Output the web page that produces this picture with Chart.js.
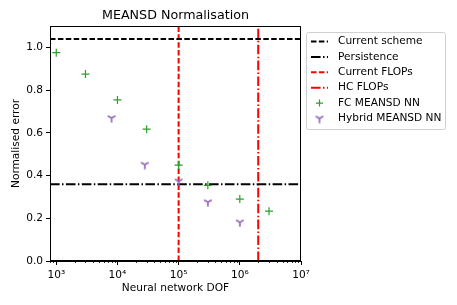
<!DOCTYPE html>
<html><head><meta charset="utf-8">
<script src="https://cdn.jsdelivr.net/npm/chart.js@4"></script>
<style>html,body{margin:0;padding:0;background:#fff}#wrap{width:457px;height:305px}</style>
</head><body><div id="wrap"><canvas id="c" width="457" height="305"></canvas></div>
<script>
const fcDOF = [1e3, 3e3, 1e4, 3e4, 1e5, 3e5, 1e6, 3e6];
const fcError = [0.975, 0.875, 0.754, 0.617, 0.449, 0.354, 0.29, 0.233];
const hybridDOF = [8e3, 2.8e4, 1e5, 3e5, 1e6];
const hybridError = [0.669, 0.451, 0.373, 0.275, 0.181];
const currentScheme = 1.039;
const persistence = 0.359;
const currentFLOPs = 1e5;
const hcFLOPs = 2e6;
const xRange = [790, 1e7];
const yRange = [0, 1.1];
const yTicks = [0, 0.2, 0.4, 0.6, 0.8, 1.0];
const xMajorTicks = [1e3, 1e4, 1e5, 1e6, 1e7];
const xTickLabels = ['10³', '10⁴', '10⁵', '10⁶', '10⁷'];
const legendLabels = ['Current scheme', 'Persistence', 'Current FLOPs', 'HC FLOPs', 'FC MEANSD NN', 'Hybrid MEANSD NN'];

const GREEN = '#2ca02c', PURPLE = '#9467bd', RED = '#ff0000', BLACK = '#000000';
const FONT = '"DejaVu Sans", sans-serif';
const FS = 10.6;
const DASHED = [5.5, 2.4];
const DASHDOT = [9.6, 2.4, 1.5, 2.4];

function triDown(color) {
  const c = document.createElement('canvas');
  c.width = 10; c.height = 10;
  const g = c.getContext('2d');
  g.strokeStyle = color; g.lineWidth = 1.7;
  g.beginPath();
  g.moveTo(5, 5); g.lineTo(5, 9.5);
  g.moveTo(5, 5); g.lineTo(1.2, 2.8);
  g.moveTo(5, 5); g.lineTo(8.8, 2.8);
  g.stroke();
  return c;
}
const triImg = triDown(PURPLE);

const hLine = (v) => [{x: xRange[0], y: v}, {x: xRange[1], y: v}];
const vLine = (v) => [{x: v, y: yRange[0]}, {x: v, y: yRange[1]}];

const datasets = [
  {label: legendLabels[0], type: 'line', data: hLine(currentScheme), borderColor: BLACK, borderWidth: 2, borderDash: DASHED, pointRadius: 0, order: 3},
  {label: legendLabels[1], type: 'line', data: hLine(persistence), borderColor: BLACK, borderWidth: 2, borderDash: DASHDOT, pointRadius: 0, order: 3},
  {label: legendLabels[2], type: 'line', data: vLine(currentFLOPs), borderColor: RED, borderWidth: 2, borderDash: DASHED, pointRadius: 0, order: 3},
  {label: legendLabels[3], type: 'line', data: vLine(hcFLOPs), borderColor: RED, borderWidth: 2, borderDash: DASHDOT, pointRadius: 0, order: 3},
  {label: legendLabels[4], type: 'scatter', data: fcDOF.map((x, i) => ({x, y: fcError[i]})), pointStyle: 'cross', radius: 4, borderColor: GREEN, backgroundColor: GREEN, borderWidth: 1.2, order: 1},
  {label: legendLabels[5], type: 'scatter', data: hybridDOF.map((x, i) => ({x, y: hybridError[i]})), pointStyle: triImg, radius: 5, borderColor: PURPLE, backgroundColor: PURPLE, order: 2}
];

const extras = {
  id: 'extras',
  afterDraw(chart) {
    const ctx = chart.ctx, a = chart.chartArea, xs = chart.scales.x;
    ctx.save();
    ctx.strokeStyle = '#000'; ctx.lineWidth = 1; ctx.setLineDash([]);
    ctx.strokeRect(Math.round(a.left) + 0.5, Math.round(a.top) + 0.5, Math.round(a.right - a.left) - 1, Math.round(a.bottom - a.top) - 1);
    ctx.beginPath();
    for (let d = 2; d < 7; d++) {
      for (let m = 2; m < 10; m++) {
        const v = m * Math.pow(10, d);
        if (v < xRange[0] || v > xRange[1]) continue;
        const px = Math.round(xs.getPixelForValue(v)) + 0.5;
        ctx.moveTo(px, a.bottom); ctx.lineTo(px, a.bottom + 2);
      }
    }
    ctx.lineWidth = 0.8; ctx.stroke();
    ctx.fillStyle = '#000';
    ctx.font = '12.7px ' + FONT; ctx.textAlign = 'center'; ctx.textBaseline = 'middle';
    ctx.fillText('MEANSD Normalisation', (a.left + a.right) / 2, 16);
    const lx = 306.5, ly = 32.5, lw = 139, lh = 97;
    ctx.fillStyle = 'rgba(255,255,255,0.8)';
    ctx.strokeStyle = '#d0d0d0'; ctx.lineWidth = 1;
    ctx.beginPath(); ctx.roundRect(lx, ly, lw, lh, 2); ctx.fill(); ctx.stroke();
    ctx.font = FS + 'px ' + FONT; ctx.textAlign = 'left'; ctx.textBaseline = 'middle';
    const styles = [[BLACK, DASHED], [BLACK, DASHDOT], [RED, DASHED], [RED, DASHDOT]];
    for (let i = 0; i < legendLabels.length; i++) {
      const y = 41.5 + i * 15.4;
      if (i < 4) {
        ctx.strokeStyle = styles[i][0]; ctx.lineWidth = 2; ctx.setLineDash(styles[i][1]);
        ctx.beginPath(); ctx.moveTo(311, y); ctx.lineTo(328, y); ctx.stroke();
        ctx.setLineDash([]);
      } else if (i === 4) {
        ctx.strokeStyle = GREEN; ctx.lineWidth = 1.2;
        ctx.beginPath(); ctx.moveTo(316, y); ctx.lineTo(323, y); ctx.moveTo(319.5, y - 3.5); ctx.lineTo(319.5, y + 3.5); ctx.stroke();
      } else {
        ctx.drawImage(triImg, 314.5, y - 5);
      }
      ctx.fillStyle = '#000';
      ctx.fillText(legendLabels[i], 338, y);
    }
    ctx.restore();
  }
};

new Chart(document.getElementById('c'), {
  type: 'scatter',
  data: {datasets},
  options: {
    responsive: false, animation: false,
    layout: {padding: {left: 0, right: 156, top: 26, bottom: 10}},
    plugins: {legend: {display: false}, title: {display: false}, tooltip: {enabled: false}},
    scales: {
      x: {
        type: 'logarithmic', min: xRange[0], max: xRange[1],
        afterFit: s => { s.height = 34; },
        afterBuildTicks: s => { s.ticks = xMajorTicks.map(v => ({value: v})); },
        ticks: {autoSkip: false, maxRotation: 0, color: '#000', font: {family: FONT, size: FS}, padding: 4,
          callback: (v) => { const i = xMajorTicks.indexOf(v); return i >= 0 ? xTickLabels[i] : ''; }},
        grid: {drawOnChartArea: false, tickLength: 4, color: '#000', tickColor: '#000'},
        border: {color: '#000'},
        title: {display: true, text: 'Neural network DOF', color: '#000', font: {family: FONT, size: FS}, padding: {top: 2, bottom: 0}}
      },
      y: {
        min: yRange[0], max: yRange[1],
        afterFit: s => { s.width = 50; },
        afterBuildTicks: s => { s.ticks = yTicks.map(v => ({value: v})); },
        ticks: {color: '#000', font: {family: FONT, size: FS}, padding: 3, callback: v => Number(v).toFixed(1)},
        grid: {drawOnChartArea: false, tickLength: 4, color: '#000', tickColor: '#000'},
        border: {color: '#000'},
        title: {display: true, text: 'Normalised error', color: '#000', font: {family: FONT, size: FS}, padding: {top: 10, bottom: 0}}
      }
    }
  },
  plugins: [extras]
});
</script></body></html>
